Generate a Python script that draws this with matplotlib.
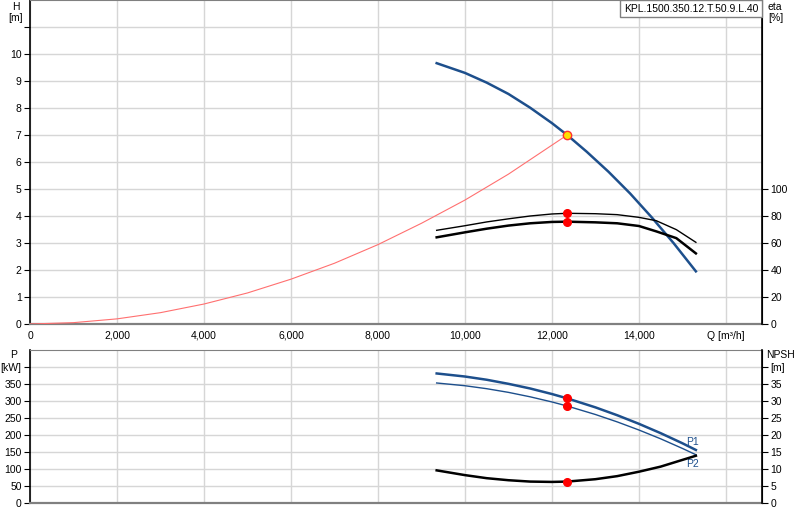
import matplotlib.pyplot as plt

plt.rcParams['font.family'] = ['Liberation Sans', 'DejaVu Sans']

# Кривая напора насоса
q_head = [9350, 10000, 10500, 11000, 11500, 12000, 12350, 12800, 13300,
          13800, 14300, 14800, 15310]
h_head = [9.66, 9.30, 8.94, 8.52, 8.01, 7.44, 7.0, 6.38, 5.64, 4.83, 3.94,
          2.99, 1.95]

# Характеристика системы
q_sys = [0, 1000, 2000, 3000, 4000, 5000, 6000, 7000, 8000, 9000, 10000,
         11000, 12350]
h_sys = [0, 0.05, 0.19, 0.42, 0.74, 1.15, 1.66, 2.25, 2.94, 3.73, 4.59,
         5.55, 7.0]

# КПД (две кривые)
q_eta = [9350, 10000, 10500, 11000, 11500, 12000, 12350, 13000, 13500,
         14000, 14400, 14860, 15310]
eta_hi = [69.4, 72.8, 75.6, 77.9, 80.0, 81.5, 82.0, 81.7, 81.0, 79.0, 76.5,
          69.9, 60.5]
eta_lo = [64.2, 67.9, 70.6, 72.9, 74.6, 75.6, 75.8, 75.3, 74.6, 72.6, 68.6,
          63.6, 52.3]

# Мощность P1, P2 и NPSH
q_pow = [9350, 10000, 10500, 11000, 11500, 12000, 12350, 13000, 13500,
         14000, 14500, 15000, 15310]
p1 = [381, 372, 362.5, 350.5, 336.8, 320.5, 307.8, 281.3, 258.2, 232.9,
      205.4, 175.7, 156]
p2 = [353, 344.9, 336.2, 325.4, 312.3, 297.2, 285.3, 260.3, 238.6, 214.7,
      188.8, 160.5, 142]
q_npsh = [9350, 10000, 10500, 11000, 11500, 12000, 12350, 13000, 13500,
          14000, 14500, 15310]
npsh = [9.6, 8.2, 7.3, 6.7, 6.3, 6.2, 6.3, 7.0, 7.9, 9.2, 10.7, 13.9]

# Рабочая точка
q_duty = 12350
h_duty = 7.0
eta_duty = [82.0, 75.8]
p_duty = [307.8, 285.3]
npsh_duty = 6.3

x_ticks = [0, 2000, 4000, 6000, 8000, 10000, 12000, 14000, 16000]
x_labels = ['0', '2,000', '4,000', '6,000', '8,000', '10,000', '12,000',
            '14,000', 'Q [m³/h]']
model = 'KPL.1500.350.12.T.50.9.L.40'

BLUE = '#1d4f8c'
GRID = '#d6d6d6'
FS = 7.5


# Общее оформление осей: сетка, рамка, засечки
def style_axes(ax):
    ax.grid(True, color=GRID, linewidth=1.0)
    ax.set_axisbelow(True)
    ax.spines['top'].set_color('#808080')
    ax.spines['bottom'].set_color('#808080')
    ax.spines['bottom'].set_linewidth(1.6)
    ax.spines['left'].set_linewidth(1.2)
    ax.tick_params(axis='y', length=4, width=0.8, pad=2, labelsize=FS)


# Правая ось (КПД или NPSH)
def style_right(ax):
    ax.spines['right'].set_linewidth(1.2)
    for side in ('top', 'bottom', 'left'):
        ax.spines[side].set_visible(False)
    ax.tick_params(axis='y', length=4, width=0.8, pad=2, labelsize=FS)


fig = plt.figure(figsize=(8, 5.2), dpi=100)

# ---- Верхний график: H и КПД ----
ax = fig.add_axes([30 / 800, 1 - 324 / 520, 732 / 800, 324 / 520])
style_axes(ax)
ax.set_xlim(0, 16830)
ax.set_ylim(0, 12)
ax.set_xticks(x_ticks)
ax.set_xticklabels(x_labels, fontsize=FS)
ax.tick_params(axis='x', length=0, pad=5)
ax.set_yticks(range(0, 12))
ax.set_yticklabels([str(i) for i in range(0, 11)] + [''])
ax.plot(q_sys, h_sys, color='#ff7070', linewidth=0.8, zorder=3)
ax.plot(q_head, h_head, color=BLUE, linewidth=1.8, zorder=4)
ax.plot(q_duty, h_duty, marker='o', markersize=6, markerfacecolor='#ffe000',
        markeredgecolor='#ff3030', markeredgewidth=1.0, zorder=6)

ax_eta = ax.twinx()
style_right(ax_eta)
ax_eta.set_ylim(0, 240)
ax_eta.set_yticks(range(0, 101, 20))
ax_eta.plot(q_eta, eta_hi, color='black', linewidth=1.0, zorder=3)
ax_eta.plot(q_eta, eta_lo, color='black', linewidth=1.8, zorder=3)
ax_eta.plot([q_duty] * 2, eta_duty, 'o', color='#ff0000', markersize=5.5,
            zorder=5)

fig.text(16 / 800, 1 - 7 / 520, 'H', ha='center', va='center', fontsize=FS)
fig.text(16 / 800, 1 - 18 / 520, '[m]', ha='center', va='center', fontsize=FS)
fig.text(768 / 800, 1 - 7 / 520, 'eta', ha='left', va='center', fontsize=FS)
fig.text(768 / 800, 1 - 18 / 520, '[%]', ha='left', va='center', fontsize=FS)
ax_eta.annotate(model, xy=(1, 1), xycoords='axes fraction',
                xytext=(-2.6, -2.6), textcoords='offset points',
                ha='right', va='top', fontsize=FS, zorder=10,
                bbox=dict(boxstyle='square,pad=0.35', facecolor='white',
                          edgecolor='#808080', linewidth=1.0))

# ---- Нижний график: мощность и NPSH ----
bx = fig.add_axes([30 / 800, 1 - 503 / 520, 732 / 800, 153 / 520])
style_axes(bx)
bx.set_xlim(0, 16830)
bx.set_ylim(0, 450)
bx.set_xticks(x_ticks)
bx.tick_params(axis='x', length=0, labelbottom=False)
bx.set_yticks(range(0, 401, 50))
bx.set_yticklabels([str(v) for v in range(0, 351, 50)] + ['[kW]'])
bx.plot(q_pow, p1, color=BLUE, linewidth=1.8, zorder=4)
bx.plot(q_pow, p2, color=BLUE, linewidth=1.0, zorder=4)
bx.plot([q_duty] * 2, p_duty, 'o', color='#ff0000', markersize=5.5, zorder=5)
bx.text(15230, 165, 'P1', color=BLUE, fontsize=FS, ha='center', va='bottom')
bx.text(15230, 128, 'P2', color=BLUE, fontsize=FS, ha='center', va='top')

bx_n = bx.twinx()
style_right(bx_n)
bx_n.set_ylim(0, 45)
bx_n.set_yticks(range(0, 41, 5))
bx_n.set_yticklabels([str(v) for v in range(0, 36, 5)] + ['[m]'])
bx_n.plot(q_npsh, npsh, color='black', linewidth=1.8, zorder=3)
bx_n.plot(q_duty, npsh_duty, 'o', color='#ff0000', markersize=5.5, zorder=5)

fig.text(14 / 800, 1 - 355 / 520, 'P', ha='center', va='center', fontsize=FS)
fig.text(766 / 800, 1 - 355 / 520, 'NPSH', ha='left', va='center',
         fontsize=FS)

fig.savefig('out.png', dpi=100)
